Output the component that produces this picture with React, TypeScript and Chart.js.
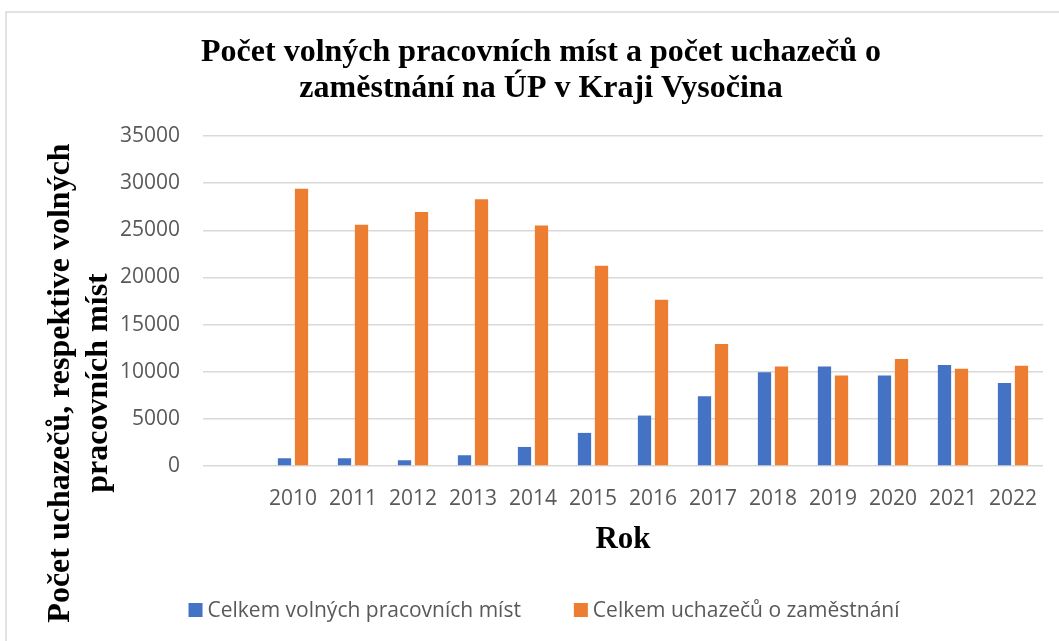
import React, { useEffect, useRef } from "react";
import { Chart, registerables } from "chart.js";

Chart.register(...registerables);

const categories: string[] = ["", "2010", "2011", "2012", "2013", "2014", "2015", "2016", "2017", "2018", "2019", "2020", "2021", "2022"];
const volnaMista: (number | null)[] = [null, 820, 820, 610, 1140, 2020, 3510, 5350, 7410, 9930, 10560, 9610, 10710, 8800];
const uchazeci: (number | null)[] = [null, 29400, 25600, 26950, 28300, 25500, 21240, 17630, 12950, 10560, 9610, 11350, 10320, 10640];
const titleLines: string[] = ["Počet volných pracovních míst a počet uchazečů o", "zaměstnání na ÚP v Kraji Vysočina"];
const yTitleLines: string[] = ["Počet uchazečů, respektive volných", "pracovních míst"];
const xTitle = "Rok";
const seriesNames: string[] = ["Celkem volných pracovních míst", "Celkem uchazečů o zaměstnání"];
const seriesColors: string[] = ["#4472C4", "#ED7D31"];

const W = 1059;
const H = 641;

const decorPlugin = {
  id: "decor",
  beforeDraw(chart: any) {
    const ctx = chart.ctx;
    ctx.save();
    ctx.fillStyle = "#ffffff";
    ctx.fillRect(0, 0, W, H);
    ctx.strokeStyle = "#d9d9d9";
    ctx.lineWidth = 1.5;
    ctx.strokeRect(6, 12, W + 50, H + 50);
    ctx.restore();
  },
  afterDraw(chart: any) {
    const ctx = chart.ctx;
    const area = chart.chartArea;
    ctx.save();
    ctx.fillStyle = "#000000";
    ctx.font = "bold 32px 'Liberation Serif', 'Times New Roman', serif";
    ctx.textAlign = "center";
    ctx.textBaseline = "alphabetic";
    ctx.fillText(titleLines[0], 541, 61);
    ctx.fillText(titleLines[1], 541, 97);

    ctx.font = "bold 31px 'Liberation Serif', 'Times New Roman', serif";
    ctx.fillText(xTitle, (area.left + area.right) / 2, 548);

    ctx.font = "bold 32px 'Liberation Serif', 'Times New Roman', serif";
    const yc = 383;
    const xs = [69, 107];
    yTitleLines.forEach((line, i) => {
      ctx.save();
      ctx.translate(xs[i], yc);
      ctx.rotate(-Math.PI / 2);
      ctx.fillText(line, 0, 0);
      ctx.restore();
    });

    // legend
    ctx.font = "21px 'Open Sans', 'Liberation Sans', sans-serif";
    ctx.textAlign = "left";
    ctx.textBaseline = "middle";
    const legendY = 610;
    const gap = 53;
    const box = 14;
    const widths = seriesNames.map((n) => box + 5 + ctx.measureText(n).width);
    const total = widths[0] + gap + widths[1];
    let x = 544 - total / 2;
    seriesNames.forEach((n, i) => {
      ctx.fillStyle = seriesColors[i];
      ctx.fillRect(x, legendY - box / 2, box, box);
      ctx.fillStyle = "#595959";
      ctx.fillText(n, x + box + 5, legendY + 1);
      x += widths[i] + gap;
    });
    ctx.restore();
  },
};

export default function App() {
  const ref = useRef<HTMLCanvasElement>(null);
  useEffect(() => {
    if (!ref.current) return;
    const chart = new Chart(ref.current, {
      type: "bar",
      data: {
        labels: categories,
        datasets: [
          {
            label: seriesNames[0],
            data: volnaMista,
            backgroundColor: seriesColors[0],
            categoryPercentage: 0.567,
            barPercentage: 0.78,
          },
          {
            label: seriesNames[1],
            data: uchazeci,
            backgroundColor: seriesColors[1],
            categoryPercentage: 0.567,
            barPercentage: 0.78,
          },
        ],
      },
      options: {
        animation: false,
        responsive: false,
        maintainAspectRatio: false,
        layout: { padding: { left: 0, right: 16, top: 136, bottom: 115 } },
        plugins: {
          legend: { display: false },
          title: { display: false },
          tooltip: { enabled: false },
        },
        scales: {
          x: {
            grid: { display: false, drawTicks: false },
            border: { display: false },
            ticks: {
              color: "#595959",
              padding: 20,
              maxRotation: 0,
              autoSkip: false,
              font: { family: "'Open Sans', 'Liberation Sans', sans-serif", size: 21 },
            },
            afterFit(scale: any) {
              scale.height = 60;
            },
          },
          y: {
            min: 0,
            max: 35000,
            grid: { color: "#d9d9d9", lineWidth: 1.5, drawTicks: false },
            border: { display: false },
            ticks: {
              stepSize: 5000,
              color: "#595959",
              padding: 23,
              font: { family: "'Open Sans', 'Liberation Sans', sans-serif", size: 21 },
              callback: (v: any) => String(v),
            },
            afterFit(scale: any) {
              scale.width = 203;
            },
          },
        },
      },
      plugins: [decorPlugin],
    });
    return () => chart.destroy();
  }, []);
  return (
    <div style={{ position: "fixed", left: 0, top: 0, width: W, height: H, background: "#fff" }}>
      <canvas ref={ref} width={W} height={H} style={{ display: "block" }} />
    </div>
  );
}
